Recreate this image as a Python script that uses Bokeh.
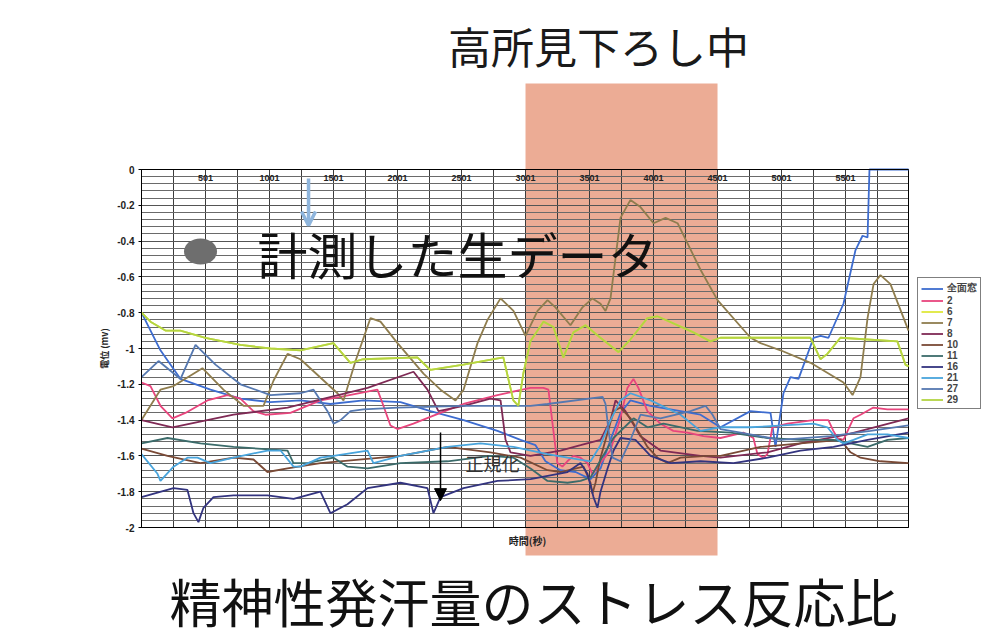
import math
import numpy as np
from bokeh.plotting import figure
from bokeh.models import (Range1d, FixedTicker, Label, BoxAnnotation, Legend, LegendItem,
                          Arrow, OpenHead, NormalHead, Grid)
from bokeh.embed import file_html
from bokeh.resources import INLINE

# ---------------- data (time in s, potential in mV) ----------------
series_names = ["全面窓", "2", "6", "7", "8", "10", "11", "16", "21", "27", "29"]
series_colors = ["#3d6ccf", "#e8457d", "#dfe83c", "#8f7d4e", "#7f2a55", "#7a4a36",
                 "#3b6b6a", "#33347f", "#48a4dc", "#5578b0", "#b3d442"]

x_zenmen = [1, 149, 306, 540, 774, 1009, 1243, 1477, 1735, 2024, 2259, 2517, 2782, 2962, 3079, 3157,
            3274, 3392, 3509, 3587, 3665, 3743, 3821, 3977, 4212, 4368, 4524, 4759, 4915, 4954, 5016,
            5071, 5134, 5251, 5306, 5368, 5485, 5579, 5634, 5673, 5688, 5993]
y_zenmen = [-0.80, -1.01, -1.17, -1.23, -1.28, -1.30, -1.29, -1.31, -1.29, -1.30, -1.35, -1.40, -1.46,
            -1.51, -1.54, -1.63, -1.68, -1.69, -1.73, -1.67, -1.51, -1.36, -1.29, -1.32, -1.35, -1.37,
            -1.44, -1.35, -1.36, -1.55, -1.25, -1.16, -1.17, -0.94, -0.93, -0.94, -0.75, -0.45, -0.37,
            -0.38, 0.0, 0.0]

x_s2 = [1, 71, 149, 243, 344, 516, 672, 774, 875, 969, 1164, 1399, 1555, 1844, 1891, 1946, 2000, 2125,
        2336, 2516, 2781, 3039, 3141, 3180, 3219, 3250, 3289, 3328, 3375, 3430, 3485, 3524, 3547, 3586,
        3664, 3742, 3797, 3844, 3883, 3953, 4055, 4156, 4266, 4391, 4524, 4703, 4781, 4813, 4860, 4891,
        4930, 5047, 5250, 5367, 5406, 5438, 5485, 5563, 5618, 5719, 5828, 5993]
y_s2 = [-1.19, -1.21, -1.32, -1.39, -1.36, -1.29, -1.26, -1.28, -1.35, -1.37, -1.36, -1.29, -1.27,
        -1.23, -1.32, -1.43, -1.45, -1.42, -1.36, -1.31, -1.26, -1.22, -1.22, -1.23, -1.46, -1.64,
        -1.66, -1.63, -1.60, -1.61, -1.64, -1.70, -1.68, -1.64, -1.57, -1.39, -1.22, -1.17, -1.22,
        -1.35, -1.42, -1.46, -1.47, -1.49, -1.50, -1.47, -1.50, -1.59, -1.61, -1.59, -1.44, -1.42,
        -1.40, -1.40, -1.46, -1.50, -1.51, -1.39, -1.37, -1.33, -1.34, -1.34]

x_s29 = [1, 71, 188, 305, 500, 774, 1008, 1242, 1500, 1633, 1734, 2156, 2258, 2516, 2828, 2906, 2945,
         2984, 3039, 3141, 3219, 3297, 3375, 3469, 3586, 3727, 3820, 3953, 4031, 4156, 4313, 4445,
         4523, 4758, 5227, 5305, 5359, 5461, 5906, 5969, 5993]
y_s29 = [-0.80, -0.85, -0.90, -0.90, -0.94, -0.98, -1.00, -1.01, -0.97, -1.08, -1.06, -1.05, -1.12,
         -1.09, -1.05, -1.29, -1.32, -1.14, -0.96, -0.85, -0.88, -1.05, -0.91, -0.87, -0.94, -1.02,
         -0.95, -0.83, -0.82, -0.86, -0.91, -0.96, -0.94, -0.94, -0.94, -1.06, -1.03, -0.94, -0.96,
         -1.09, -1.10]
x_s6 = list(x_s29)   # series 6 lies under series 29
y_s6 = list(y_s29)

x_s7 = [1, 149, 251, 477, 641, 798, 954, 1032, 1142, 1243, 1532, 1579, 1673, 1790, 1868, 2001, 2204,
        2337, 2454, 2517, 2626, 2704, 2806, 2907, 3001, 3095, 3173, 3235, 3352, 3446, 3524, 3587,
        3626, 3665, 3743, 3821, 3899, 4001, 4095, 4189, 4368, 4501, 4759, 4837, 4993, 5228, 5485,
        5556, 5618, 5673, 5720, 5774, 5852, 5993]
y_s7 = [-1.40, -1.23, -1.21, -1.11, -1.23, -1.32, -1.32, -1.18, -1.03, -1.06, -1.25, -1.29, -1.07,
        -0.83, -0.85, -0.97, -1.14, -1.23, -1.29, -1.23, -0.97, -0.84, -0.72, -0.79, -0.93, -0.79,
        -0.73, -0.77, -0.87, -0.77, -0.72, -0.75, -0.79, -0.72, -0.27, -0.17, -0.21, -0.30, -0.27,
        -0.30, -0.56, -0.73, -0.94, -0.97, -1.01, -1.08, -1.19, -1.26, -1.16, -0.83, -0.64, -0.59,
        -0.64, -0.90]

x_s8 = [1, 243, 720, 1142, 1767, 2126, 2235, 2321, 2517, 2727, 2806, 2845, 2884, 3040, 3274, 3431,
        3587, 3665, 3704, 3782, 3899, 4056, 4368, 4524, 4891, 5149, 5517, 5993]
y_s8 = [-1.40, -1.44, -1.37, -1.33, -1.22, -1.13, -1.23, -1.35, -1.32, -1.28, -1.29, -1.51, -1.58,
        -1.60, -1.57, -1.54, -1.51, -1.40, -1.29, -1.35, -1.49, -1.57, -1.60, -1.61, -1.58, -1.53,
        -1.48, -1.39]

x_s10 = [1, 204, 462, 720, 876, 985, 1142, 1399, 2024, 2392, 2727, 2962, 3173, 3274, 3454, 3509, 3524,
         3548, 3587, 3689, 3743, 3821, 3954, 4032, 4110, 4212, 4423, 4524, 4837, 5149, 5462, 5540,
         5618, 5774, 5993]
y_s10 = [-1.56, -1.60, -1.64, -1.61, -1.62, -1.69, -1.67, -1.64, -1.60, -1.55, -1.58, -1.61, -1.68,
         -1.69, -1.66, -1.75, -1.81, -1.75, -1.61, -1.35, -1.33, -1.39, -1.55, -1.61, -1.64, -1.61,
         -1.60, -1.60, -1.55, -1.53, -1.51, -1.58, -1.61, -1.63, -1.64]

x_s11 = [1, 204, 462, 720, 1142, 1188, 1297, 1501, 1611, 1767, 2024, 2392, 2727, 2907, 3040, 3173,
         3329, 3431, 3509, 3688, 3845, 3954, 4079, 4345, 4602, 4891, 5149, 5407, 5673, 5829, 5993]
y_s11 = [-1.53, -1.50, -1.53, -1.55, -1.57, -1.64, -1.64, -1.61, -1.66, -1.67, -1.64, -1.63, -1.60,
         -1.61, -1.67, -1.74, -1.75, -1.74, -1.72, -1.50, -1.39, -1.44, -1.42, -1.46, -1.47, -1.50,
         -1.51, -1.51, -1.55, -1.51, -1.50]

x_s16 = [1, 251, 360, 407, 446, 485, 563, 720, 985, 1189, 1399, 1477, 1610, 1767, 2024, 2235, 2282,
         2337, 2517, 2782, 3040, 3329, 3431, 3485, 3532, 3563, 3587, 3642, 3689, 3743, 3860, 3978,
         4134, 4368, 4626, 4891, 5149, 5407, 5673, 5993]
y_s16 = [-1.83, -1.78, -1.79, -1.92, -1.97, -1.89, -1.83, -1.82, -1.82, -1.84, -1.80, -1.92, -1.87,
         -1.78, -1.75, -1.78, -1.92, -1.83, -1.78, -1.74, -1.73, -1.69, -1.64, -1.70, -1.83, -1.89,
         -1.80, -1.67, -1.57, -1.50, -1.51, -1.60, -1.64, -1.63, -1.64, -1.61, -1.57, -1.55, -1.51,
         -1.47]

x_s21 = [1, 126, 149, 251, 360, 438, 540, 720, 985, 1087, 1189, 1243, 1399, 1501, 1767, 1813, 2024,
         2392, 2649, 2907, 3173, 3329, 3509, 3587, 3665, 3743, 3821, 3978, 4212, 4368, 4524, 4759,
         5016, 5251, 5360, 5438, 5485, 5563, 5673, 5829, 5993]
y_s21 = [-1.59, -1.70, -1.74, -1.66, -1.61, -1.61, -1.64, -1.61, -1.57, -1.57, -1.66, -1.66, -1.61,
         -1.60, -1.57, -1.64, -1.60, -1.55, -1.53, -1.55, -1.59, -1.61, -1.63, -1.54, -1.40, -1.29,
         -1.25, -1.29, -1.37, -1.46, -1.44, -1.44, -1.43, -1.42, -1.44, -1.51, -1.53, -1.51, -1.48,
         -1.48, -1.50]

x_s27 = [1, 134, 306, 423, 579, 774, 1009, 1243, 1345, 1454, 1501, 1556, 1634, 1735, 2001, 2517, 3040,
         3173, 3603, 3626, 3650, 3681, 3743, 3821, 3899, 4055, 4290, 4407, 4462, 4524, 4681, 4993,
         5384, 5696, 5993]
y_s27 = [-1.16, -1.07, -1.17, -0.98, -1.09, -1.20, -1.26, -1.25, -1.23, -1.35, -1.42, -1.40, -1.35,
         -1.34, -1.33, -1.32, -1.32, -1.31, -1.27, -1.31, -1.46, -1.61, -1.63, -1.51, -1.37, -1.39,
         -1.35, -1.32, -1.37, -1.45, -1.47, -1.51, -1.49, -1.46, -1.43]

series_x = {"全面窓": x_zenmen, "2": x_s2, "6": x_s6, "7": x_s7, "8": x_s8, "10": x_s10,
            "11": x_s11, "16": x_s16, "21": x_s21, "27": x_s27, "29": x_s29}
series_y = {"全面窓": y_zenmen, "2": y_s2, "6": y_s6, "7": y_s7, "8": y_s8, "10": y_s10,
            "11": y_s11, "16": y_s16, "21": y_s21, "27": y_s27, "29": y_s29}

x_tick_values = [501, 1001, 1501, 2001, 2501, 3001, 3501, 4001, 4501, 5001, 5501]
y_tick_values = [0, -0.2, -0.4, -0.6, -0.8, -1, -1.2, -1.4, -1.6, -1.8, -2]
y_tick_labels = ["0", "-0.2", "-0.4", "-0.6", "-0.8", "-1", "-1.2", "-1.4", "-1.6", "-1.8", "-2"]

x_first, x_last = 1, 5993          # time axis extent
y_top, y_bottom = 0, -2            # potential axis extent
window_start, window_end = 3001, 4501   # 高所見下ろし中

# ---------------- layout (pixels) ----------------
W, H = 1005, 639
CH_LEFT, CH_RIGHT, CH_TOP, CH_BOTTOM = 141, 908, 169, 527   # chart area on the page
ux = (x_last - x_first) / (CH_RIGHT - CH_LEFT)
uy = (y_top - y_bottom) / (CH_BOTTOM - CH_TOP)
x_range = Range1d(x_first - CH_LEFT * ux, x_first + (W - CH_LEFT) * ux)
y_range = Range1d(y_top - (H - CH_TOP) * uy, y_top + CH_TOP * uy)

JP = "Noto Sans CJK JP"
p = figure(width=W, height=H, output_backend="svg", toolbar_location=None,
           x_range=x_range, y_range=y_range, min_border=0)
p.background_fill_color = "white"
p.border_fill_color = "white"
p.outline_line_color = None

# shaded window (behind the grid)
p.add_layout(BoxAnnotation(left=window_start, right=window_end, top=0.48, bottom=-2.157,
                           fill_color="#ecac95", fill_alpha=1.0, line_color=None, level="image"))

xminor = list(range(251, x_last, 500))
p.xaxis.ticker = FixedTicker(ticks=x_tick_values, minor_ticks=xminor)
p.xaxis.fixed_location = y_top
p.xaxis.bounds = (x_first, x_last)
p.xaxis.major_label_standoff = 5
p.xaxis.major_tick_in = 0
p.xaxis.major_tick_out = 0
p.xaxis.minor_tick_in = 0
p.xaxis.minor_tick_out = 0
p.xaxis.axis_line_color = "black"
p.xaxis.major_label_text_font = "Liberation Sans"
p.xaxis.major_label_text_font_style = "bold"
p.xaxis.major_label_text_font_size = "9px"
p.xaxis.major_label_text_color = "#222222"

yminor = [round(v, 2) for v in np.arange(-2.0, 0.001, 0.04)]
p.yaxis.ticker = FixedTicker(ticks=y_tick_values, minor_ticks=yminor)
p.yaxis.major_label_overrides = dict(zip(y_tick_values, y_tick_labels))
p.yaxis.fixed_location = x_first
p.yaxis.bounds = (y_bottom, y_top)
p.yaxis.major_tick_in = 0
p.yaxis.major_tick_out = 3
p.yaxis.minor_tick_in = 0
p.yaxis.minor_tick_out = 0
p.yaxis.major_label_standoff = 4
p.yaxis.axis_line_color = "black"
p.yaxis.major_label_text_font = "Liberation Sans"
p.yaxis.major_label_text_font_style = "bold"
p.yaxis.major_label_text_font_size = "10px"
p.yaxis.major_label_text_color = "#222222"

p.xgrid.cross_bounds = (y_bottom, y_top)
p.xgrid.grid_line_color = "#3c3c3c"
p.xgrid.minor_grid_line_color = "#3c3c3c"
p.ygrid.cross_bounds = (x_first, x_last)
p.ygrid.grid_line_color = "#555555"
p.ygrid.minor_grid_line_color = "#6a6a6a"
# right and bottom edges of the chart box
p.add_layout(Grid(dimension=0, ticker=FixedTicker(ticks=[x_first, x_last]),
                  cross_bounds=(y_bottom, y_top), grid_line_color="black"))
p.add_layout(Grid(dimension=1, ticker=FixedTicker(ticks=[y_top, y_bottom]),
                  cross_bounds=(x_first, x_last), grid_line_color="black"))

renderers = {}
for name, col in zip(series_names, series_colors):
    renderers[name] = p.line(series_x[name], series_y[name], line_color=col, line_width=1.8)

# gray bullet mark
p.ellipse(x=[462], y=[-0.458], width=33, height=26, width_units="screen", height_units="screen",
          fill_color="#6e6e6e", line_color=None)

# arrows
p.add_layout(Arrow(x_start=1306, y_start=-0.05, x_end=1306, y_end=-0.313,
                   line_color="#8fb5dc", line_width=3.5,
                   end=OpenHead(size=14, line_color="#8fb5dc", line_width=3.5)))
p.add_layout(Arrow(x_start=2337, y_start=-1.469, x_end=2337, y_end=-1.85,
                   line_color="black", line_width=1.5,
                   end=NormalHead(size=12, fill_color="black", line_color="black")))

# texts
p.add_layout(Label(x=3571, y=0.693, text="高所見下ろし中", text_font=JP, text_font_size="43px",
                   text_align="center", text_baseline="middle", text_color="#1a1a1a"))
p.add_layout(Label(x=2470, y=-0.464, text="計測した生データ", text_font=JP, text_font_size="50px",
                   text_align="center", text_baseline="middle", text_color="#111111"))
p.add_layout(Label(x=2533, y=-1.637, text="正規化", text_font=JP, text_font_size="18px",
                   text_align="left", text_baseline="middle", text_color="#333333"))
p.add_layout(Label(x=3017, y=-2.073, text="時間(秒)", text_font=JP, text_font_size="10px",
                   text_font_style="bold", text_align="center", text_baseline="middle",
                   text_color="#222222"))
p.add_layout(Label(x=-288, y=-1.0, text="電位 (mv)", text_font=JP, text_font_size="9px",
                   text_font_style="bold", text_align="center", text_baseline="middle",
                   angle=math.pi / 2, text_color="#222222"))
p.add_layout(Label(x=3064, y=-2.408, text="精神性発汗量のストレス反応比", text_font=JP,
                   text_font_size="52px", text_align="center", text_baseline="middle",
                   text_color="#111111"))

legend = Legend(items=[LegendItem(label=n, renderers=[renderers[n]]) for n in series_names],
                location=(917, H - 409), orientation="vertical",
                label_text_font="Liberation Sans", label_text_font_size="10px",
                label_text_font_style="bold",
                glyph_width=22, glyph_height=9, label_height=9, spacing=0, padding=3, margin=0,
                label_standoff=4, border_line_color="black", border_line_width=1,
                background_fill_color="white", background_fill_alpha=1)
p.add_layout(legend)

open("out.html", "w").write(file_html(p, INLINE))
